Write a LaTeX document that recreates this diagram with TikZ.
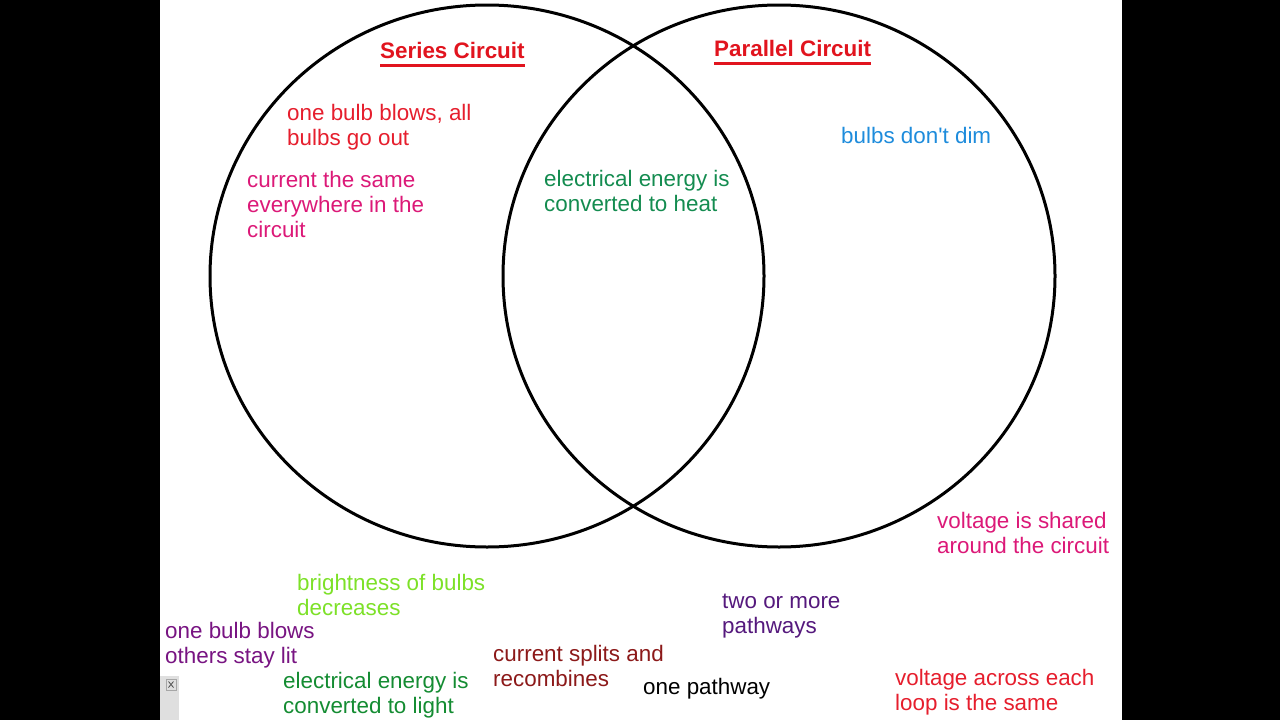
\documentclass[tikz,border=0pt]{standalone}
\usepackage{fontspec}
\setmainfont{Liberation Sans}[Ligatures=TeXOff]
\definecolor{titlered}{RGB}{225,20,30}
\definecolor{tred}{RGB}{230,30,45}
\definecolor{tpink}{RGB}{220,25,120}
\definecolor{tgreen}{RGB}{20,140,80}
\definecolor{tblue}{RGB}{30,140,220}
\definecolor{tlime}{RGB}{125,225,40}
\definecolor{tpurple}{RGB}{120,20,130}
\definecolor{tgreentwo}{RGB}{20,140,50}
\definecolor{tdarkred}{RGB}{140,25,25}
\definecolor{tviolet}{RGB}{85,25,125}
\tikzset{
  lbl/.style={anchor=base west, inner sep=0pt, align=left,
    font=\fontsize{22.4}{25}\selectfont},
  ttl/.style={lbl, font=\fontsize{22.4}{25}\selectfont\bfseries, text=titlered},
  ring/.style={draw=black, line width=3pt}
}
\begin{document}
\begin{tikzpicture}[x=1pt,y=-1pt]
\useasboundingbox (0,0) rectangle (1280,720);
\fill[black] (0,0) rectangle (1280,720);
\fill[white] (160,0) rectangle (1122,720);
% circles
\draw[ring] (487,276) ellipse [x radius=277, y radius=271];
\draw[ring] (779,276) ellipse [x radius=276, y radius=271];
% titles (multi-line labels: base = baseline of last line)
\node[ttl] (series) at (380,58) {Series Circuit};
\draw[titlered, line width=3pt] ([yshift=-7pt]series.south west) -- ([yshift=-7pt]series.south east);
\node[ttl] (parallel) at (714,56) {Parallel Circuit};
\draw[titlered, line width=3pt] ([yshift=-7pt]parallel.south west) -- ([yshift=-7pt]parallel.south east);
% labels
\node[lbl, text=tred] (blowall) at (287,145) {one bulb blows, all\\bulbs go out};
\node[lbl, text=tpink] (same) at (247,237) {current the same\\everywhere in the\\circuit};
\node[lbl, text=tgreen] (heat) at (544,211) {electrical energy is\\converted to heat};
\node[lbl, text=tblue] (dim) at (841,143) {bulbs don't dim};
\node[lbl, text=tpink] (shared) at (937,553) {voltage is shared\\around the circuit};
\node[lbl, text=tlime] (bright) at (297,615) {brightness of bulbs\\decreases};
\node[lbl, text=tpurple] (lit) at (165,663) {one bulb blows\\others stay lit};
\node[lbl, text=tgreentwo] (light) at (283,713) {electrical energy is\\converted to light};
\node[lbl, text=tdarkred] (splits) at (493,686) {current splits and\\recombines};
\node[lbl, text=black] (onepath) at (643,694) {one pathway};
\node[lbl, text=tviolet] (twomore) at (722,633) {two or more\\pathways};
\node[lbl, text=tred] (across) at (895,710) {voltage across each\\loop is the same};
% small window widget bottom left
\fill[gray!25] (160,676) rectangle (179,720);
\draw[gray!70, line width=0.8pt] (166,679) rectangle (176,690);
\draw[black!70, line width=0.8pt] (168.5,681.5) -- (173.5,687.5) (168.5,687.5) -- (173.5,681.5);
\end{tikzpicture}
\end{document}
